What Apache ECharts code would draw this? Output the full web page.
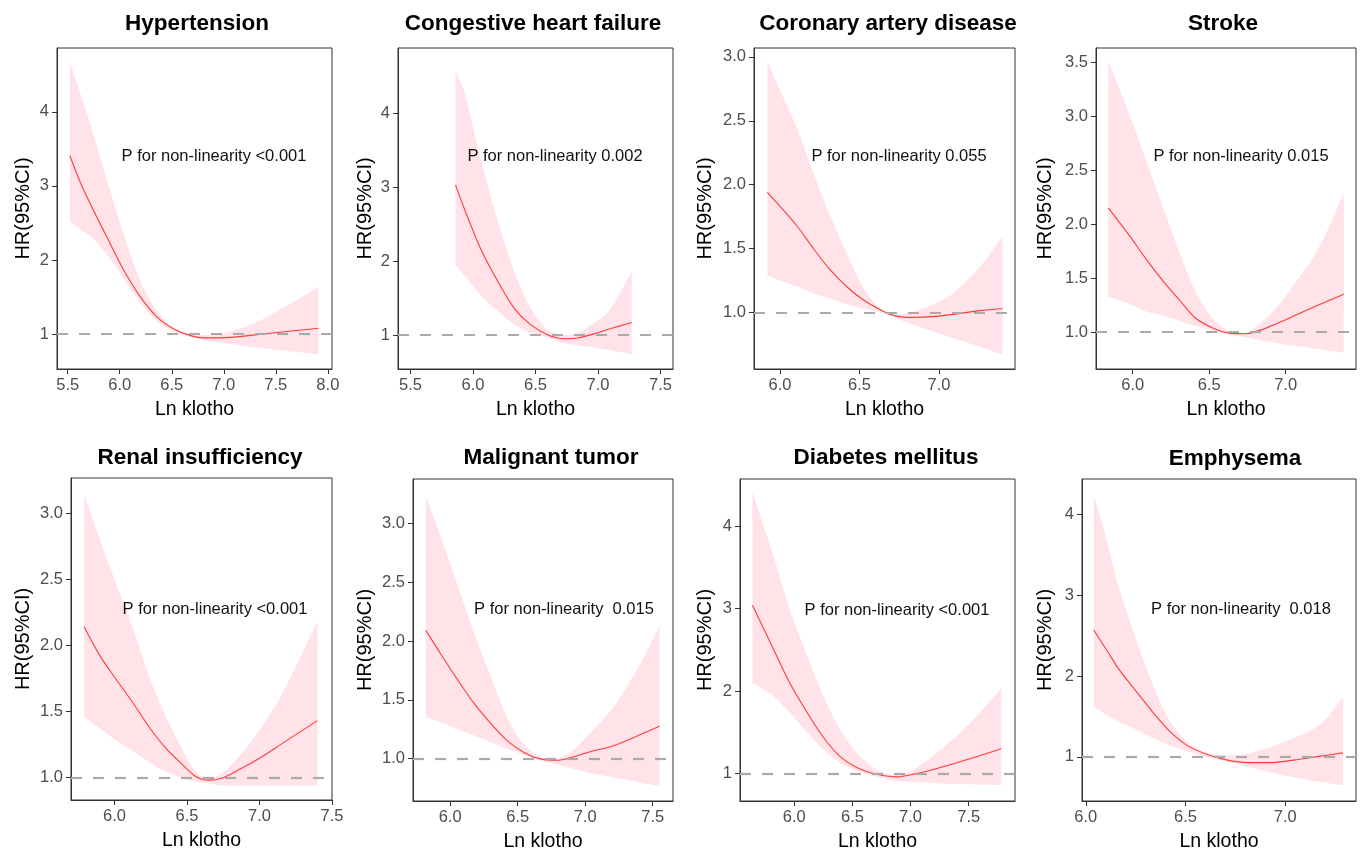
<!DOCTYPE html>
<html>
<head>
<meta charset="utf-8">
<title>Ln klotho RCS</title>
<script src="https://cdn.jsdelivr.net/npm/echarts@6/dist/echarts.min.js"></script>
<style>
  html, body { margin: 0; padding: 0; background: #fff; }
  #main { width: 1362px; height: 856px; }
</style>
</head>
<body>
<div id="main"></div>
<script>
var titles = ['Hypertension', 'Congestive heart failure', 'Coronary artery disease', 'Stroke',
              'Renal insufficiency', 'Malignant tumor', 'Diabetes mellitus', 'Emphysema'];
var pLabels = ['P for non-linearity <0.001', 'P for non-linearity 0.002', 'P for non-linearity 0.055',
               'P for non-linearity 0.015', 'P for non-linearity <0.001', 'P for non-linearity  0.015',
               'P for non-linearity <0.001', 'P for non-linearity  0.018'];

// Hypertension
var htnX  = [5.52, 5.62, 5.72, 5.88, 6.04, 6.20, 6.36, 6.52, 6.68, 6.81, 6.95, 7.10, 7.30, 7.50, 7.70, 7.91];
var htnHR = [3.41, 3.05, 2.75, 2.30, 1.86, 1.50, 1.23, 1.07, 0.98, 0.95, 0.95, 0.96, 0.99, 1.02, 1.05, 1.08];
var htnLo = [2.52, 2.42, 2.32, 2.07, 1.74, 1.42, 1.17, 1.03, 0.96, 0.92, 0.89, 0.86, 0.82, 0.79, 0.76, 0.73];
var htnHi = [4.68, 4.25, 3.82, 3.06, 2.34, 1.71, 1.31, 1.085, 1.00, 0.99, 1.00, 1.05, 1.15, 1.30, 1.46, 1.64];

// Congestive heart failure
var chfX  = [5.86, 5.93, 6.06, 6.20, 6.33, 6.46, 6.60, 6.73, 6.84, 7.00, 7.07, 7.17, 7.27];
var chfHR = [3.03, 2.71, 2.17, 1.72, 1.36, 1.14, 1.00, 0.95, 0.96, 1.03, 1.07, 1.12, 1.17];
var chfLo = [1.95, 1.81, 1.54, 1.32, 1.14, 1.03, 0.96, 0.89, 0.86, 0.82, 0.80, 0.77, 0.74];
var chfHi = [4.58, 4.29, 3.39, 2.53, 1.86, 1.36, 1.07, 1.00, 1.03, 1.20, 1.29, 1.55, 1.85];

// Coronary artery disease
var cadX  = [5.92, 6.00, 6.11, 6.21, 6.31, 6.42, 6.52, 6.63, 6.73, 6.84, 6.96, 7.09, 7.26, 7.40];
var cadHR = [1.94, 1.83, 1.67, 1.50, 1.34, 1.20, 1.10, 1.02, 0.97, 0.96, 0.966, 0.984, 1.013, 1.03];
var cadLo = [1.29, 1.25, 1.20, 1.15, 1.11, 1.065, 1.03, 1.00, 0.953, 0.90, 0.85, 0.797, 0.73, 0.666];
var cadHi = [2.96, 2.74, 2.43, 2.09, 1.77, 1.46, 1.20, 1.03, 0.98, 1.005, 1.06, 1.15, 1.36, 1.60];

// Stroke
var strX  = [5.84, 5.98, 6.09, 6.20, 6.31, 6.41, 6.52, 6.63, 6.74, 6.85, 6.96, 7.07, 7.18, 7.28, 7.38];
var strHR = [2.15, 1.89, 1.67, 1.47, 1.29, 1.13, 1.04, 0.99, 0.985, 1.025, 1.09, 1.16, 1.23, 1.29, 1.35];
var strLo = [1.33, 1.26, 1.19, 1.15, 1.10, 1.055, 1.015, 0.98, 0.95, 0.92, 0.895, 0.87, 0.85, 0.83, 0.81];
var strHi = [3.51, 3.01, 2.58, 2.15, 1.72, 1.38, 1.13, 1.01, 0.99, 1.10, 1.26, 1.47, 1.69, 1.96, 2.29];

// Renal insufficiency
var renX  = [5.79, 5.90, 6.00, 6.13, 6.24, 6.355, 6.47, 6.56, 6.65, 6.74, 6.86, 7.00, 7.16, 7.40];
var renHR = [2.14, 1.92, 1.76, 1.56, 1.38, 1.22, 1.096, 1.008, 0.98, 0.995, 1.06, 1.146, 1.26, 1.43];
var renLo = [1.46, 1.37, 1.29, 1.197, 1.116, 1.045, 0.995, 0.97, 0.957, 0.94, 0.94, 0.94, 0.94, 0.94];
var renHi = [3.14, 2.80, 2.50, 2.12, 1.76, 1.46, 1.21, 1.045, 0.995, 1.03, 1.16, 1.36, 1.64, 2.18];

// Malignant tumor
var tumX  = [5.82, 5.93, 6.05, 6.17, 6.30, 6.42, 6.54, 6.66, 6.79, 6.91, 7.03, 7.21, 7.40, 7.55];
var tumHR = [2.09, 1.89, 1.68, 1.48, 1.30, 1.156, 1.057, 1.00, 0.986, 1.014, 1.057, 1.11, 1.20, 1.275];
var tumLo = [1.355, 1.31, 1.255, 1.20, 1.14, 1.085, 1.037, 0.986, 0.95, 0.915, 0.88, 0.84, 0.80, 0.765];
var tumHi = [3.23, 2.89, 2.49, 2.09, 1.70, 1.355, 1.13, 1.02, 1.00, 1.07, 1.21, 1.44, 1.79, 2.13];

// Diabetes mellitus
var dmX  = [5.64, 5.82, 5.96, 6.11, 6.25, 6.39, 6.54, 6.68, 6.79, 6.88, 7.02, 7.25, 7.51, 7.78];
var dmHR = [3.04, 2.51, 2.10, 1.74, 1.44, 1.21, 1.07, 1.00, 0.97, 0.96, 0.99, 1.07, 1.18, 1.30];
var dmLo = [2.10, 1.94, 1.74, 1.50, 1.29, 1.13, 1.03, 0.97, 0.93, 0.91, 0.90, 0.88, 0.87, 0.86];
var dmHi = [4.41, 3.64, 2.99, 2.43, 1.94, 1.54, 1.25, 1.07, 1.00, 0.99, 1.04, 1.28, 1.61, 2.03];

// Emphysema
var emX  = [6.04, 6.105, 6.17, 6.26, 6.34, 6.42, 6.51, 6.61, 6.71, 6.81, 6.925, 7.04, 7.18, 7.29];
var emHR = [2.57, 2.32, 2.07, 1.79, 1.54, 1.32, 1.14, 1.03, 0.96, 0.93, 0.93, 0.96, 1.01, 1.05];
var emLo = [1.62, 1.52, 1.43, 1.33, 1.23, 1.14, 1.07, 1.00, 0.94, 0.88, 0.81, 0.75, 0.69, 0.65];
var emHi = [4.24, 3.68, 3.06, 2.40, 1.87, 1.45, 1.185, 1.05, 1.02, 1.04, 1.12, 1.23, 1.41, 1.74];

// tick values
var xTicks = [
  [5.5, 6.0, 6.5, 7.0, 7.5, 8.0], [5.5, 6.0, 6.5, 7.0, 7.5], [6.0, 6.5, 7.0], [6.0, 6.5, 7.0],
  [6.0, 6.5, 7.0, 7.5], [6.0, 6.5, 7.0, 7.5], [6.0, 6.5, 7.0, 7.5], [6.0, 6.5, 7.0]
];
var yTicks = [
  [1, 2, 3, 4], [1, 2, 3, 4], [1.0, 1.5, 2.0, 2.5, 3.0], [1.0, 1.5, 2.0, 2.5, 3.0, 3.5],
  [1.0, 1.5, 2.0, 2.5, 3.0], [1.0, 1.5, 2.0, 2.5, 3.0], [1, 2, 3, 4], [1, 2, 3, 4]
];

var series8 = [
  [htnX, htnHR, htnLo, htnHi], [chfX, chfHR, chfLo, chfHi], [cadX, cadHR, cadLo, cadHi], [strX, strHR, strLo, strHi],
  [renX, renHR, renLo, renHi], [tumX, tumHR, tumLo, tumHi], [dmX, dmHR, dmLo, dmHi], [emX, emHR, emLo, emHi]
];

// layout: plot box [left, top, width, height], axis ranges, y label decimals, y name gap, title & p-text centres
var layout = [
  { box: [57, 48, 275, 321],   xr: [5.397, 8.04], yr: [0.53, 4.86],  dec: 0, gap: 24, t: [197, 24],   p: [214, 156] },
  { box: [398, 48, 275, 321],  xr: [5.40, 7.60],  yr: [0.54, 4.88],  dec: 0, gap: 23, t: [533, 24],   p: [555, 156] },
  { box: [754, 48, 261, 321],  xr: [5.836, 7.478], yr: [0.556, 3.07], dec: 1, gap: 39, t: [888, 24],  p: [899, 156] },
  { box: [1096, 48, 260, 321], xr: [5.76, 7.46],  yr: [0.658, 3.63], dec: 1, gap: 41, t: [1223, 24],  p: [1241, 156] },
  { box: [71, 478, 261, 322],  xr: [5.70, 7.50],  yr: [0.83, 3.265], dec: 1, gap: 38, t: [200, 458],  p: [215, 609] },
  { box: [413, 479, 260, 322], xr: [5.725, 7.65], yr: [0.64, 3.377], dec: 1, gap: 38, t: [551, 458],  p: [564, 609] },
  { box: [740, 479, 275, 322], xr: [5.533, 7.898], yr: [0.667, 4.57], dec: 0, gap: 25, t: [886, 458], p: [897, 610] },
  { box: [1082, 479, 274, 322], xr: [5.981, 7.355], yr: [0.455, 4.437], dec: 0, gap: 27, t: [1235, 459], p: [1241, 609] }
];

var FONT = 'Liberation Sans, Arial, sans-serif';
var bandColor = '#ffe3e8';
var lineColor = '#ff3b3b';
var refColor = '#aaaaaa';

// CI ribbon: one smoothed polygon through the upper edge and back along the lower edge
function bandRenderer(xs, lo, hi) {
  return function (params, api) {
    var pts = [];
    var n = xs.length;
    for (var k = 0; k < n; k++) {
      var p = api.coord([xs[k], hi[k]]);
      pts.push(p);
      if (k === 0 || k === n - 1) pts.push(p.slice());
    }
    for (var j = n - 1; j >= 0; j--) {
      var q = api.coord([xs[j], lo[j]]);
      pts.push(q);
      if (j === 0 || j === n - 1) pts.push(q.slice());
    }
    return {
      type: 'polygon',
      silent: true,
      shape: { points: pts, smooth: 0.3 },
      style: { fill: bandColor }
    };
  };
}

var grids = [], xAxes = [], yAxes = [], series = [], graphics = [];

layout.forEach(function (L, i) {
  var d = series8[i];
  grids.push({
    left: L.box[0], top: L.box[1], width: L.box[2], height: L.box[3],
    show: true, borderColor: '#333', borderWidth: 1, backgroundColor: '#fff',
    containLabel: false, outerBoundsMode: 'none'
  });
  xAxes.push({
    type: 'value', gridIndex: i, min: L.xr[0], max: L.xr[1],
    name: 'Ln klotho', nameLocation: 'middle', nameGap: 31, nameMoveOverlap: false,
    nameTextStyle: { color: '#000', fontSize: 19.5, fontFamily: FONT },
    axisLine: { show: true, onZero: false, lineStyle: { color: '#333', width: 1 } },
    axisTick: { show: true, length: 5, lineStyle: { color: '#333' }, customValues: xTicks[i] },
    axisLabel: {
      color: '#4d4d4d', fontSize: 16.5, fontFamily: FONT, margin: 8, hideOverlap: false,
      customValues: xTicks[i],
      formatter: function (v) { return v.toFixed(1); }
    },
    splitLine: { show: false }
  });
  yAxes.push({
    type: 'value', gridIndex: i, min: L.yr[0], max: L.yr[1],
    name: 'HR(95%CI)', nameLocation: 'middle', nameGap: L.gap, nameRotate: 90, nameMoveOverlap: false,
    nameTextStyle: { color: '#000', fontSize: 20, fontFamily: FONT },
    axisLine: { show: true, onZero: false, lineStyle: { color: '#333', width: 1 } },
    axisTick: { show: true, length: 5, lineStyle: { color: '#333' }, customValues: yTicks[i] },
    axisLabel: {
      color: '#4d4d4d', fontSize: 16.5, fontFamily: FONT, margin: 8, hideOverlap: false,
      customValues: yTicks[i],
      formatter: (function (dec) { return function (v) { return v.toFixed(dec); }; })(L.dec)
    },
    splitLine: { show: false }
  });
  series.push({
    type: 'custom', xAxisIndex: i, yAxisIndex: i,
    renderItem: bandRenderer(d[0], d[2], d[3]),
    data: [[d[0][0], d[3][0]]],
    clip: true, silent: true, z: 1
  });
  series.push({
    type: 'line', xAxisIndex: i, yAxisIndex: i,
    data: d[0].map(function (x, k) { return [x, d[1][k]]; }),
    smooth: 0.3, showSymbol: false, silent: true, z: 3,
    lineStyle: { color: lineColor, width: 1.1 },
    markLine: {
      silent: true, symbol: ['none', 'none'], label: { show: false },
      lineStyle: { color: refColor, width: 2.2, type: [11, 11] },
      data: [{ yAxis: 1 }]
    }
  });
  graphics.push({
    type: 'text', silent: true, z: 100,
    style: { x: L.t[0], y: L.t[1], text: titles[i], textAlign: 'center', textVerticalAlign: 'middle',
             fill: '#000', font: 'bold 22.5px ' + FONT }
  });
  graphics.push({
    type: 'text', silent: true, z: 100,
    style: { x: L.p[0], y: L.p[1], text: pLabels[i], textAlign: 'center', textVerticalAlign: 'middle',
             fill: '#111', font: '16.5px ' + FONT }
  });
});

var chart = echarts.init(document.getElementById('main'), null, { renderer: 'canvas' });
chart.setOption({
  backgroundColor: '#fff',
  animation: false,
  textStyle: { fontFamily: FONT },
  grid: grids,
  xAxis: xAxes,
  yAxis: yAxes,
  series: series,
  graphic: graphics
});
</script>
</body>
</html>
